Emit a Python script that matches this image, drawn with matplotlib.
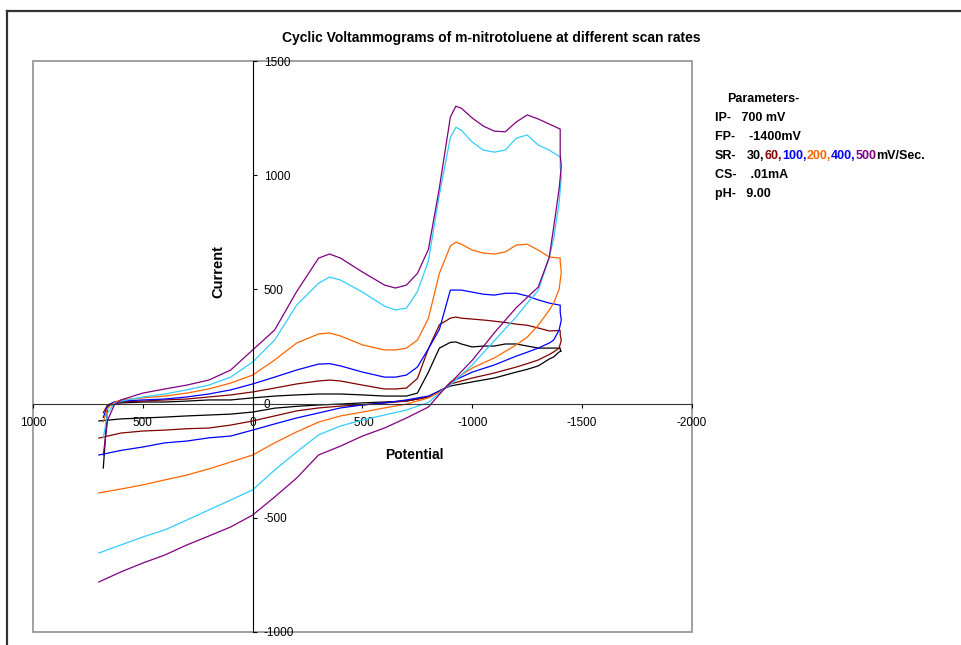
import matplotlib
matplotlib.use("Agg")
import matplotlib.pyplot as plt
from matplotlib.lines import Line2D
from matplotlib.patches import Rectangle

plt.rcParams["font.family"] = ["Liberation Sans", "DejaVu Sans"]
plt.rcParams["axes.unicode_minus"] = False

# forward sweep (IP -> FP) and reverse sweep (FP -> IP), potential in mV
FWD_POT = [680, 660, 630, 600, 500, 400, 300, 200, 100, 0, -100, -200, -300, -350,
           -400, -500, -600, -650, -700, -750, -800, -850, -900, -925, -950, -1000,
           -1050, -1100, -1150, -1200, -1250, -1300, -1350, -1400]
REV_POT = [-1400, -1405, -1395, -1370, -1350, -1300, -1250, -1200, -1100, -1000, -900,
           -876, -850, -800, -700, -600, -500, -400, -300, -200, -100, 0, 100, 200, 300,
           400, 500, 600, 700]

fwd_30 = [-282, -10, 0, 3, 7, 7, 11, 16, 16, 25, 33, 38, 42, 42, 42, 38, 33, 33, 33, 46,
          138, 243, 268, 270, 261, 248, 252, 252, 261, 261, 252, 243, 243, 243]
fwd_60 = [-40, -5, 5, 7, 11, 16, 20, 29, 38, 51, 68, 86, 99, 103, 99, 81, 64, 64, 68, 110,
          240, 345, 374, 379, 374, 370, 366, 361, 355, 348, 343, 331, 318, 320]
fwd_100 = [-60, -10, 8, 11, 16, 20, 29, 42, 60, 86, 116, 147, 173, 175, 165, 138, 116, 116,
           125, 160, 240, 325, 497, 497, 497, 488, 479, 475, 483, 483, 471, 454, 440, 431]
fwd_200 = [-80, -20, 5, 16, 25, 33, 46, 64, 90, 125, 191, 265, 305, 309, 296, 257, 235, 235,
           243, 278, 373, 570, 690, 707, 698, 672, 659, 655, 664, 694, 698, 672, 642, 637]
fwd_400 = [-150, -40, 0, 11, 29, 42, 60, 81, 116, 182, 278, 431, 527, 554, 541, 488, 427,
           410, 418, 490, 625, 915, 1165, 1210, 1197, 1145, 1110, 1101, 1110, 1162, 1176,
           1132, 1110, 1079]
fwd_500 = [-225, -72, -6, 16, 46, 64, 81, 103, 147, 235, 322, 490, 637, 655, 637, 576, 519,
           506, 519, 570, 675, 945, 1255, 1302, 1293, 1250, 1215, 1193, 1190, 1233, 1264,
           1246, 1224, 1202]

rev_30 = [235, 230, 226, 204, 195, 165, 150, 138, 112, 95, 77, 68, 55, 29, 11, 7, 3, -2, -6,
          -12, -20, -37, -46, -50, -54, -59, -63, -67, -76]
rev_60 = [300, 278, 243, 226, 215, 191, 175, 160, 134, 112, 86, 68, 55, 29, 11, 3, -6, -11,
          -19, -32, -54, -76, -94, -107, -110, -116, -120, -129, -151]
rev_100 = [400, 366, 322, 278, 265, 243, 225, 208, 169, 138, 94, 68, 55, 33, 16, 3, -6, -19,
           -41, -63, -89, -116, -142, -150, -164, -172, -190, -205, -225]
rev_200 = [620, 575, 500, 440, 409, 343, 291, 257, 200, 156, 94, 68, 50, 25, -2, -19, -37,
           -54, -81, -124, -172, -225, -256, -286, -313, -334, -356, -374, -391]
rev_400 = [1040, 990, 880, 720, 640, 495, 440, 380, 275, 170, 82, 68, 45, 5, -28, -50, -72,
           -98, -137, -212, -291, -378, -422, -466, -510, -553, -584, -619, -654]
rev_500 = [1088, 1040, 940, 770, 640, 510, 465, 420, 310, 190, 90, 68, 40, -15, -63, -107,
           -142, -186, -225, -326, -409, -488, -540, -580, -619, -663, -698, -737, -781]

RATES = ["30", "60", "100", "200", "400", "500"]
LINE_COLORS = ["black", "#800000", "#0000FF", "#FF6600", "#33CCFF", "#800080"]
TEXT_COLORS = ["black", "#800000", "#0000FF", "#FF6600", "#0000FF", "#800080"]
FWD = [fwd_30, fwd_60, fwd_100, fwd_200, fwd_400, fwd_500]
REV = [rev_30, rev_60, rev_100, rev_200, rev_400, rev_500]

fig = plt.figure(figsize=(9.61, 6.45), dpi=100)
ax = fig.add_axes([33 / 961, 13 / 645, 659 / 961, 571 / 645])

for fwd, rev, color in zip(FWD, REV, LINE_COLORS):
    ax.plot(FWD_POT + REV_POT, fwd + rev, color=color, lw=0.9)

ax.set_xlim(1000, -2000)
ax.set_ylim(-1000, 1500)
ax.set_xticks([1000, 500, 0, -500, -1000, -1500, -2000])
ax.set_yticks([-1000, -500, 0, 500, 1000, 1500])

# axes cross at the origin, Excel style
ax.spines["left"].set_position(("data", 0))
ax.spines["bottom"].set_position(("data", 0))
ax.spines["right"].set_visible(False)
ax.spines["top"].set_visible(False)
ax.spines["left"].set_color("black")
ax.spines["bottom"].set_color("#333333")
ax.add_patch(Rectangle((0, 0), 1, 1, transform=ax.transAxes, fill=False,
                       ec="#999999", lw=1.3, clip_on=False, zorder=0))
ax.tick_params(axis="x", direction="out", length=3, pad=7, labelsize=8.5)
ax.tick_params(axis="y", direction="in", length=3, pad=-8, labelsize=8.5)
for lab in ax.get_yticklabels():
    lab.set_horizontalalignment("left")

ax.set_xlabel("Potential", fontsize=10, fontweight="bold")
ax.xaxis.set_label_coords(0.578, 0.31)
ax.xaxis.label.set_va("center")
ax.set_ylabel("Current", fontsize=10.5, fontweight="bold")
ax.yaxis.set_label_coords(0.281, 0.632)
ax.yaxis.label.set_va("center")

fig.text(491 / 961, 1 - 38 / 645,
         "Cyclic Voltammograms of m-nitrotoluene at different scan rates",
         ha="center", va="center", fontsize=10, fontweight="bold")

# outer chart border
fig.add_artist(Line2D([7 / 961, 7 / 961], [0, 1 - 11 / 645], color="#333333", lw=1.6))
fig.add_artist(Line2D([7 / 961, 1], [1 - 11 / 645, 1 - 11 / 645], color="#333333", lw=1.6))

# parameter box
pfont = dict(fontsize=9, fontweight="bold", va="center")
fig.text(727 / 961, 1 - 99 / 645, "Parameters-", **pfont)
fig.text(715 / 961, 1 - 118 / 645, "IP-   700 mV", **pfont)
fig.text(715 / 961, 1 - 137 / 645, "FP-    -1400mV", **pfont)
fig.text(715 / 961, 1 - 156 / 645, "SR-", **pfont)
fig.text(715 / 961, 1 - 175 / 645, "CS-    .01mA", **pfont)
fig.text(715 / 961, 1 - 194 / 645, "pH-   9.00", **pfont)

prev = fig.text(747 / 961, 1 - 156 / 645, RATES[0] + ",", color=TEXT_COLORS[0], **pfont)
for i in range(1, len(RATES)):
    label = RATES[i] + ("," if i < len(RATES) - 1 else "")
    prev = ax.annotate(label, xy=(1, 0), xycoords=prev, va="bottom", ha="left",
                       fontsize=9, fontweight="bold", color=TEXT_COLORS[i],
                       annotation_clip=False)
ax.annotate("mV/Sec.", xy=(1, 0), xycoords=prev, va="bottom", ha="left",
            fontsize=9, fontweight="bold", color="black", annotation_clip=False)

fig.savefig("out.png", dpi=100, facecolor="white")
